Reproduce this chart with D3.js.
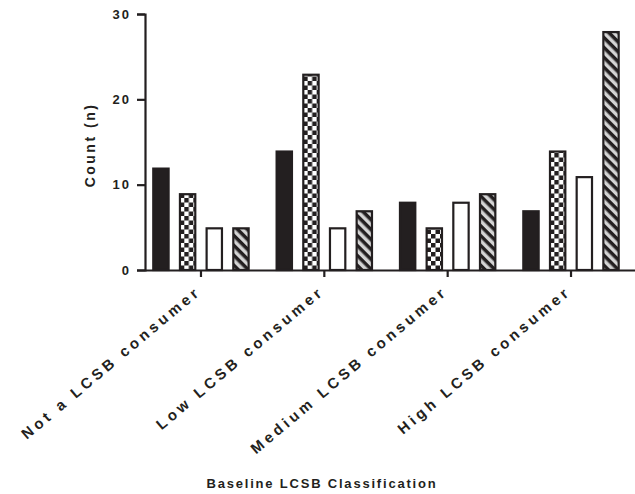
<!DOCTYPE html>
<html>
<head>
<meta charset="utf-8">
<script src="https://cdn.jsdelivr.net/npm/d3@7"></script>
<style>
  body { margin: 0; background: #fff; }
  text { font-family: "Liberation Sans", Arial, sans-serif; font-weight: bold; fill: #231f20; }
</style>
</head>
<body>
<script>
const categories = ["Not a LCSB consumer", "Low LCSB consumer", "Medium LCSB consumer", "High LCSB consumer"];
const seriesNames = ["s1", "s2", "s3", "s4"];
const s1 = [12, 14, 8, 7];
const s2 = [9, 23, 5, 14];
const s3 = [5, 5, 8, 11];
const s4 = [5, 7, 9, 28];
const yTicks = [0, 10, 20, 30];

const allSeries = [s1, s2, s3, s4];
const data = categories.map((c, i) => ({
  cat: c,
  values: seriesNames.map((s, j) => ({ key: s, value: allSeries[j][i] }))
}));

const width = 635, height = 494;
const ink = "#231f20";

const svg = d3.select("body").append("svg")
  .attr("width", width)
  .attr("height", height);

// patterns
const defs = svg.append("defs");
const checker = defs.append("pattern")
  .attr("id", "checker")
  .attr("patternUnits", "userSpaceOnUse")
  .attr("width", 9).attr("height", 9);
checker.append("rect").attr("width", 9).attr("height", 9).attr("fill", "#fff");
checker.append("rect").attr("width", 4.5).attr("height", 4.5).attr("fill", ink);
checker.append("rect").attr("x", 4.5).attr("y", 4.5).attr("width", 4.5).attr("height", 4.5).attr("fill", ink);

const stripes = defs.append("pattern")
  .attr("id", "stripes")
  .attr("patternUnits", "userSpaceOnUse")
  .attr("width", 7).attr("height", 7)
  .attr("patternTransform", "rotate(45)");
stripes.append("rect").attr("width", 7).attr("height", 7).attr("fill", "#d4d4d4");
stripes.append("rect").attr("width", 7).attr("height", 3.5).attr("fill", ink);

const fills = { s1: ink, s2: "url(#checker)", s3: "#fff", s4: "url(#stripes)" };

const axisX0 = 145;
const x0 = d3.scaleBand()
  .domain(categories)
  .range([139.3, 632.7]);

const x1 = d3.scaleBand()
  .domain(seriesNames)
  .range([8.3, 115])
  .paddingInner(0.35)
  .paddingOuter(0.175);

const y = d3.scaleLinear()
  .domain([0, 30])
  .range([270, 14]);

// bars
const groups = svg.append("g").selectAll("g")
  .data(data)
  .join("g")
  .attr("transform", d => `translate(${x0(d.cat)},0)`);

groups.selectAll("rect")
  .data(d => d.values)
  .join("rect")
  .attr("x", d => x1(d.key) + 1)
  .attr("y", d => y(d.value) + 1)
  .attr("width", x1.bandwidth() - 2)
  .attr("height", d => y(0) - y(d.value) - 1)
  .attr("fill", d => fills[d.key])
  .attr("stroke", ink)
  .attr("stroke-width", 2.2);

// y axis
const yAxis = svg.append("g")
  .attr("transform", `translate(${axisX0},0)`)
  .call(d3.axisLeft(y).tickValues(yTicks).tickSize(8).tickPadding(6));
yAxis.select(".domain").attr("stroke", ink).attr("stroke-width", 2.2);
yAxis.selectAll(".tick line").attr("stroke", ink).attr("stroke-width", 2.2);
yAxis.selectAll(".tick text")
  .attr("font-size", 13).style("letter-spacing", "2px")
  .attr("font-family", null).attr("fill", null);

// x axis
const xAxis = svg.append("g")
  .attr("transform", `translate(0,${y(0)})`)
  .call(d3.axisBottom(x0).tickSize(7).tickSizeOuter(0).tickFormat(""));
xAxis.select(".domain").attr("d", `M${axisX0},0.5H635`).attr("stroke", ink).attr("stroke-width", 2.2);
xAxis.selectAll(".tick line").attr("stroke", ink).attr("stroke-width", 2.2);

svg.append("g").selectAll("text")
  .data(categories)
  .join("text")
  .attr("transform", d => `translate(${x0(d) + x0.bandwidth() / 2 + 1},${y(0) + 23}) rotate(-40)`)
  .attr("text-anchor", "end")
  .attr("font-size", 15)
  .style("letter-spacing", "3.7px")
  .text(d => d);

// axis titles
svg.append("text")
  .attr("x", 322)
  .attr("y", 488)
  .attr("text-anchor", "middle")
  .attr("font-size", 13)
  .style("letter-spacing", "1.8px")
  .text("Baseline LCSB Classification");

svg.append("text")
  .attr("transform", `translate(95,145) rotate(-90)`)
  .attr("text-anchor", "middle")
  .attr("font-size", 14)
  .style("letter-spacing", "2.5px")
  .text("Count (n)");
</script>
</body>
</html>
